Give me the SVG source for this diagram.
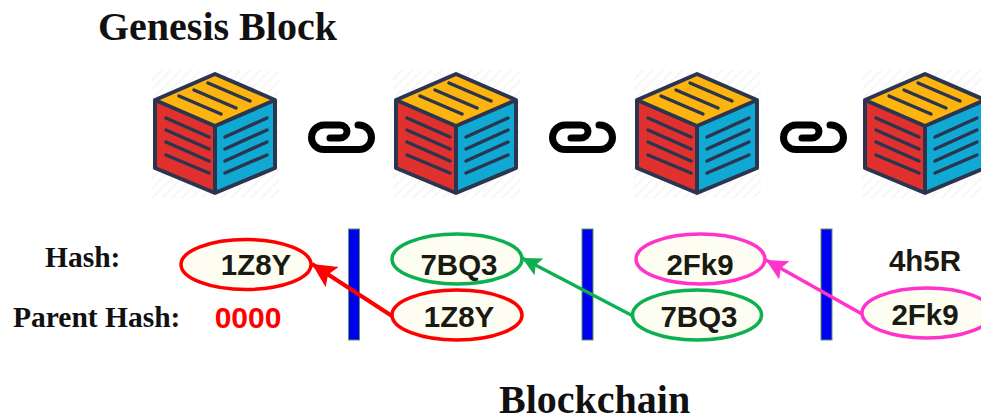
<svg xmlns="http://www.w3.org/2000/svg" width="981" height="417" viewBox="0 0 981 417">
<style>
.t{font-family:"Liberation Serif","Times New Roman",serif;font-weight:bold;fill:#111}
.v{font-family:"Liberation Sans",Arial,sans-serif;font-size:29.5px;font-weight:bold;fill:#1a1a10;text-anchor:middle}
.bar{fill:#0000f0;stroke:#5a9a5a;stroke-width:1}
.el{fill:#fdfdf2;stroke-width:3.5}
.ln{stroke:#2b3550;stroke-width:3.4;stroke-linecap:round;fill:none}
.edge{fill:none}
.link{fill:none;stroke:#000;stroke-width:7;stroke-linecap:round;stroke-linejoin:round}
</style>
<defs>
<pattern id="h" width="7" height="7" patternUnits="userSpaceOnUse" patternTransform="rotate(-45)"><rect width="7" height="7" fill="#fff"/><rect width="7" height="2" fill="#f6f6f6"/></pattern>
<symbol id="cube" overflow="visible" width="130" height="130" viewBox="0 0 130 130">
<rect x="1" y="1" width="127" height="128" fill="url(#h)"/>
<path d="M4 31 64 5 124 31 64 57Z" fill="#fdb40e"/>
<path d="M4 31 64 57V124L4 99Z" fill="#e0312f"/>
<path d="M124 31 64 57V124L124 99Z" fill="#10a9d4"/>
<path d="M4 31 64 5 124 31V99L64 124 4 99ZM4 31 64 57 124 31M64 57V124" fill="none" stroke="#2b3550" stroke-width="4" stroke-linejoin="round"/>
<path class="ln" d="M28 27 70 45M43 21 85 39M57 14 99 32M15 49 58 68M15 61 58 80M15 73 58 92M15 86 58 104M74 68 116 49M74 80 116 61M74 92 116 73M74 104 116 86"/>
</symbol>
<symbol id="chain" overflow="visible" width="70" height="34" viewBox="0 0 70 34">
<path class="link" d="M24 17H34C38 17 41 14 41 10.500S38 4 34 4H18C11 4 5.500 10 5.500 16.500S11 28.500 18 28.500H53C60 28.500 65.500 23 65.500 16.500S60 4 53 4H52"/>
</symbol>
<marker id="ar" markerWidth="7" markerHeight="7" refX="6" refY="3" orient="auto"><path d="M0 0 6 3 0 6 1.200 3Z" fill="#ff0000"/></marker>
<marker id="ag" markerWidth="7" markerHeight="7" refX="6" refY="3" orient="auto"><path d="M0 0 6 3 0 6 1.200 3Z" fill="#0cb050"/></marker>
<marker id="am" markerWidth="7" markerHeight="7" refX="6" refY="3" orient="auto"><path d="M0 0 6 3 0 6 1.200 3Z" fill="#ff33cc"/></marker>
</defs>
<g id="title-genesis"><text class="t" x="98" y="40" font-size="40">Genesis Block</text></g>
<g id="title-blockchain"><text class="t" x="499" y="413" font-size="40">Blockchain</text></g>
<g id="block-1"><use href="#cube" x="151" y="69"/></g>
<g id="block-2"><use href="#cube" x="392" y="69"/></g>
<g id="block-3"><use href="#cube" x="633" y="69"/></g>
<g id="block-4"><use href="#cube" x="861" y="69"/></g>
<g id="link-1"><use href="#chain" x="306" y="121"/></g>
<g id="link-2"><use href="#chain" x="547" y="121"/></g>
<g id="link-3"><use href="#chain" x="778" y="121"/></g>
<g id="label-hash"><text class="t" x="45" y="267" font-size="29.500">Hash:</text></g>
<g id="label-parent"><text class="t" x="13" y="327" font-size="29.500">Parent Hash:</text></g>
<g id="genesis-parent"><text x="248" y="328" font-family="Liberation Sans,Arial,sans-serif" font-weight="bold" font-size="30" fill="#ff0000" text-anchor="middle">0000</text></g>
<g id="sep-1"><rect class="bar" x="348.500" y="229" width="11" height="111"/></g>
<g id="sep-2"><rect class="bar" x="582" y="229" width="11" height="111"/></g>
<g id="sep-3"><rect class="bar" x="821" y="229" width="11" height="111"/></g>
<g id="connectors">
<line class="edge" x1="392" y1="316" x2="312" y2="264" stroke="#ff0000" stroke-width="4" marker-end="url(#ar)"/>
<line class="edge" x1="633" y1="316" x2="522" y2="258" stroke="#0cb050" stroke-width="3.200" marker-end="url(#ag)"/>
<line class="edge" x1="862" y1="314" x2="766" y2="260" stroke="#ff33cc" stroke-width="3.500" marker-end="url(#am)"/>
</g>
<g id="h1"><ellipse class="el" cx="246" cy="264.500" rx="65" ry="25" stroke="#ff0000"/><text class="v" x="256" y="275">1Z8Y</text></g>
<g id="h2"><ellipse class="el" cx="457" cy="259" rx="65" ry="25" stroke="#0cb050"/><text class="v" x="459" y="275">7BQ3</text></g>
<g id="p2"><ellipse class="el" cx="457" cy="315" rx="65" ry="25" stroke="#ff0000"/><text class="v" x="459" y="327">1Z8Y</text></g>
<g id="h3"><ellipse class="el" cx="700.500" cy="259" rx="64.500" ry="25" stroke="#ff33cc"/><text class="v" x="700" y="275">2Fk9</text></g>
<g id="p3"><ellipse class="el" cx="697" cy="315" rx="64.500" ry="25" stroke="#0cb050"/><text class="v" x="699" y="327">7BQ3</text></g>
<g id="h4"><text class="v" x="925" y="271">4h5R</text></g>
<g id="p4"><ellipse class="el" cx="927" cy="313" rx="65" ry="25" stroke="#ff33cc"/><text class="v" x="925" y="325">2Fk9</text></g>
</svg>
